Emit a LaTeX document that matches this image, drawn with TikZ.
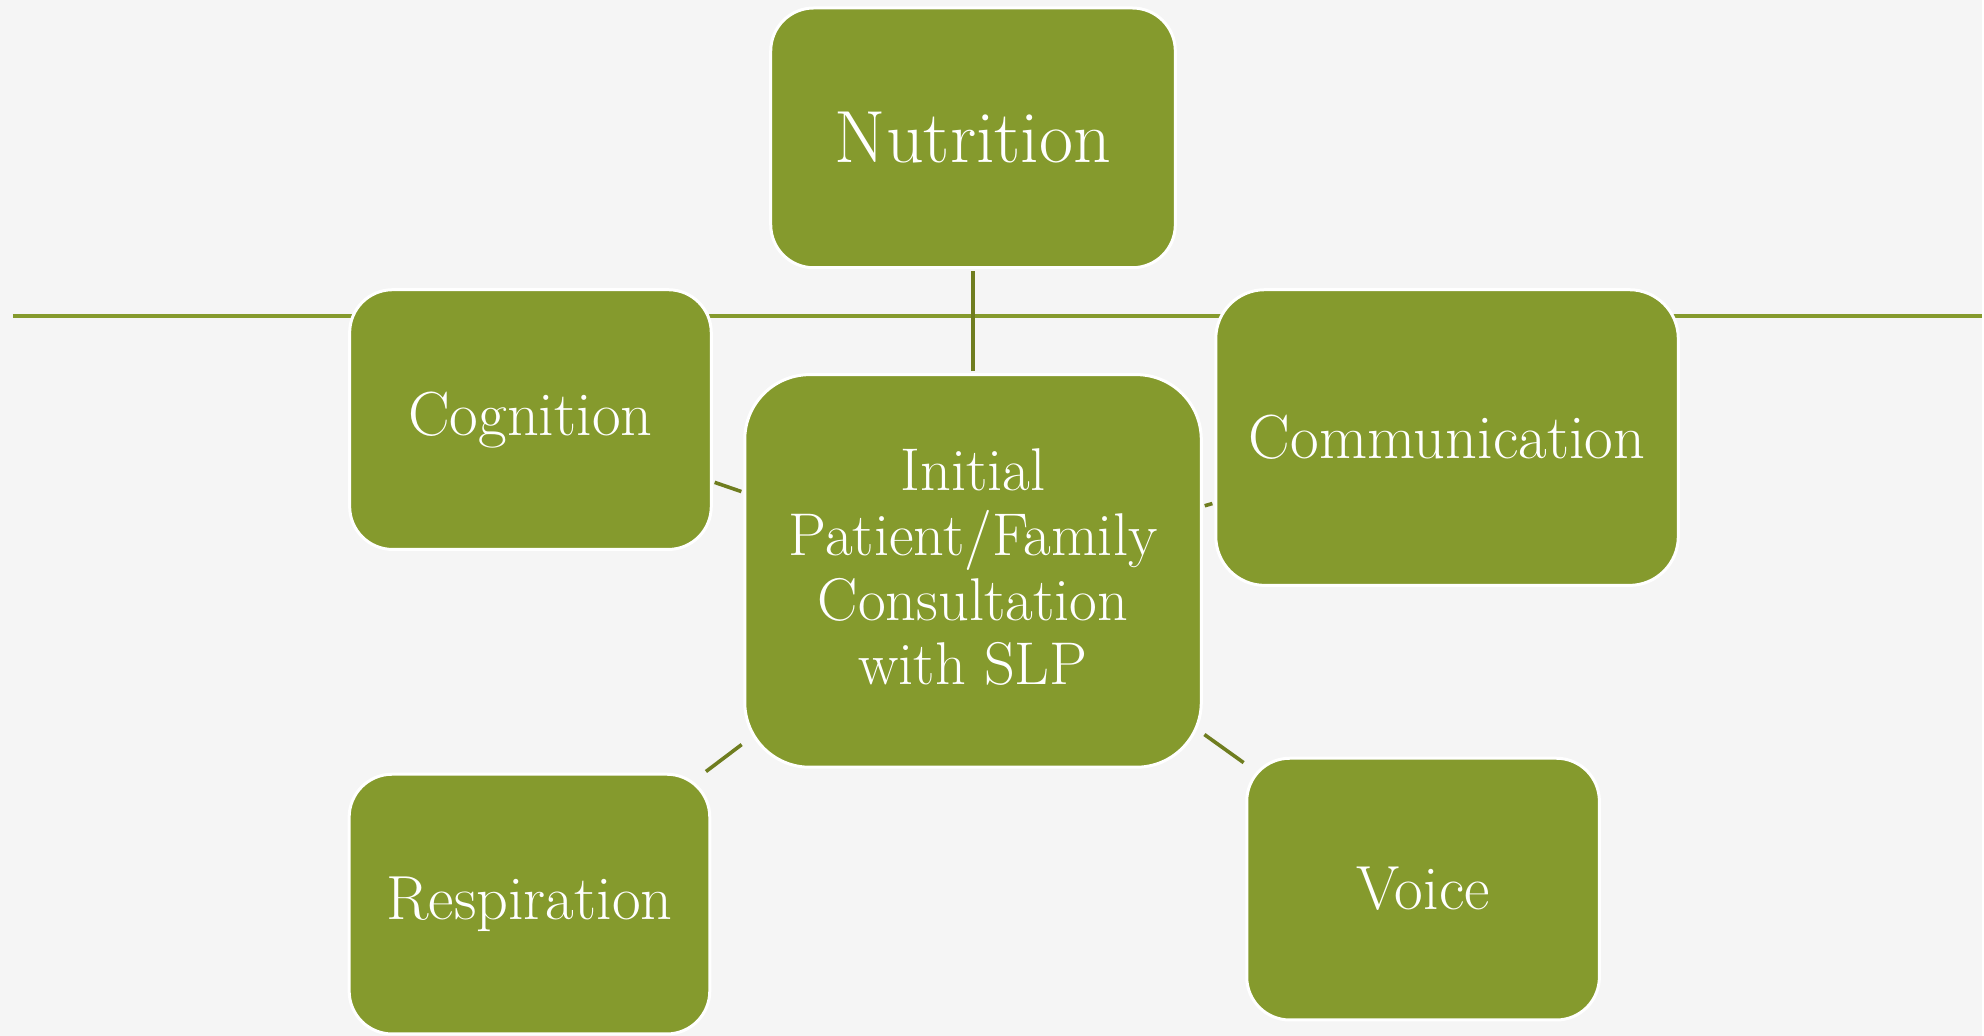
\documentclass[tikz,border=0pt]{standalone}
\usepackage{xcolor}
\definecolor{boxgreen}{HTML}{859A2D}
\definecolor{linkgreen}{HTML}{6F7D1F}
\definecolor{paper}{HTML}{F5F5F5}
\begin{document}
\begin{tikzpicture}[x=0.5pt,y=-0.5pt,
  topic/.style={draw=white, line width=1.5pt, fill=boxgreen, rounded corners=21.5pt,
    text=white, inner sep=0pt, align=center, font=\fontsize{31.2}{36}\selectfont},
  hub/.style={topic, rounded corners=32.5pt, font=\fontsize{30.2}{32.5}\selectfont, text depth=4.3pt},
  link/.style={draw=linkgreen, line width=1.8pt, shorten <=1pt, shorten >=1pt},
  rule/.style={draw=boxgreen, line width=2pt}]

% page background (also fixes the picture size)
\fill[paper] (0,0) rectangle (1984,1037);

% long horizontal rule running behind the upper boxes
\coordinate (ruleW) at (13,316);
\coordinate (ruleE) at (1984,316);
\draw[rule] (ruleW) -- (ruleE);

% boxes
\node[topic, minimum width=202.5pt, minimum height=130pt,
      font=\fontsize{37}{44}\selectfont] (nut) at (974,138) {Nutrition};
\node[topic, minimum width=181pt, minimum height=130pt] (cog) at (531,420) {Cognition};
\node[topic, minimum width=231.5pt, minimum height=148pt, rounded corners=24.5pt]
      (com) at (1448.5,438) {Communication};
\node[hub, minimum width=228.5pt, minimum height=196.5pt] (ctr) at (974,571.5)
      {Initial\\Patient/Family\\Consultation\\with SLP};
\node[topic, minimum width=180.5pt, minimum height=130pt] (res) at (530,905) {Respiration};
\node[topic, minimum width=176.5pt, minimum height=131pt] (voi) at (1424.5,890) {Voice};

% spokes from the central consultation
\draw[link] (ctr) -- (nut);
\draw[link] (ctr) -- (cog);
\draw[link] (ctr) -- (com);
\draw[link] (ctr) -- (res);
\draw[link] (ctr) -- (voi);
\end{tikzpicture}
\end{document}
